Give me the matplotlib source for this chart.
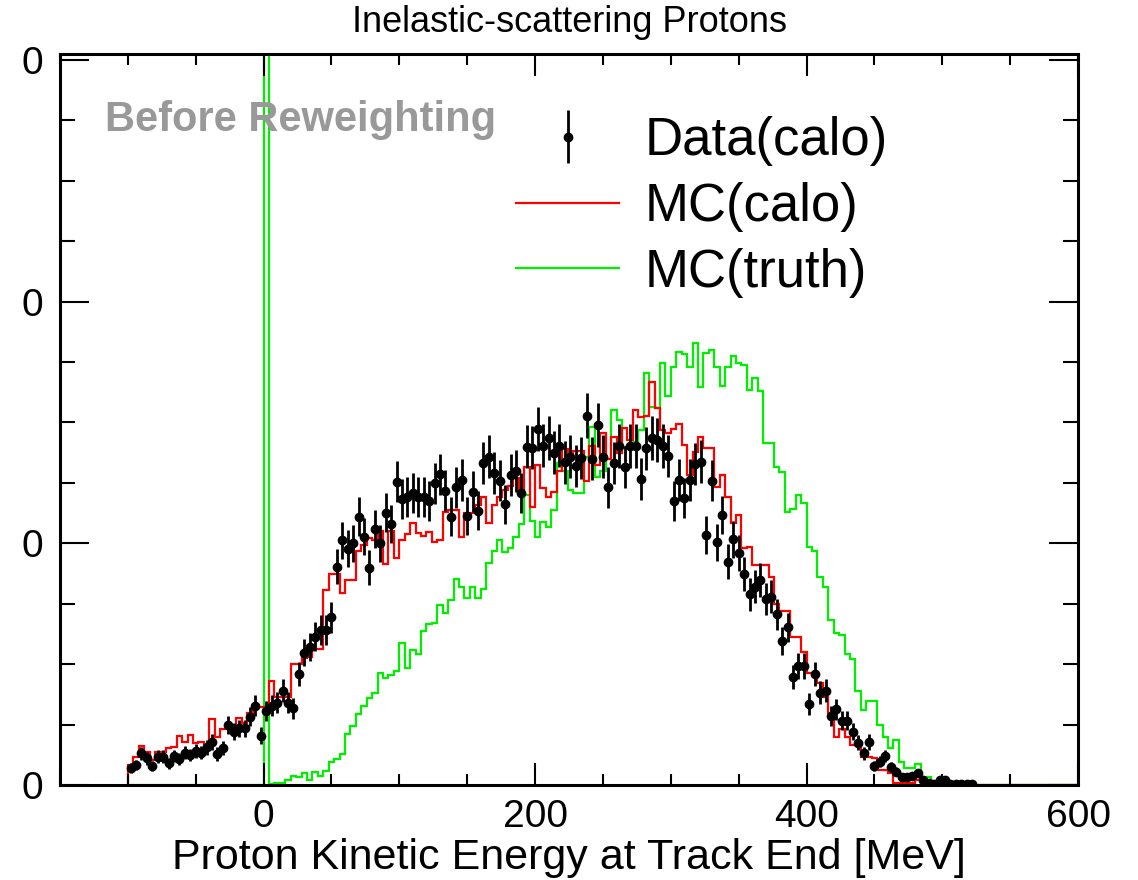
import numpy as np
import matplotlib.pyplot as plt
from matplotlib.lines import Line2D
from matplotlib.ticker import MultipleLocator, FormatStrFormatter

plt.rcParams['font.family'] = ['Liberation Sans', 'DejaVu Sans']

# binning: 4 MeV bins from -100 to 600 MeV
bin_lo, bin_hi, bin_w = -100, 600, 4
n_bins = (bin_hi - bin_lo) // bin_w
edges = np.arange(bin_lo, bin_hi + bin_w, bin_w)
centers = edges[:-1] + bin_w / 2

unit = 0.01        # one major y tick
data_norm = 173.0  # entries per unit, for poisson errors

# data (calo), bins starting at -100 MeV
data_calo = [
    0.069, 0.083, 0.131, 0.110, 0.079, 0.117, 0.117, 0.090, 0.120, 0.106,
    0.134, 0.124, 0.142, 0.134, 0.156, 0.179, 0.128, 0.152, 0.248, 0.221,
    0.234, 0.234, 0.283, 0.327, 0.204, 0.307, 0.327, 0.341, 0.390, 0.341,
    0.317, 0.459, 0.547, 0.570, 0.614, 0.641, 0.641, 0.694, 0.903, 1.012,
    0.978, 1.000, 1.110, 1.027, 0.899, 1.059, 1.000, 1.127, 1.079, 1.254,
    1.183, 1.193, 1.209, 1.193, 1.193, 1.176, 1.248, 1.285, 1.218, 1.110,
    1.232, 1.262, 1.113, 1.214, 1.135, 1.333, 1.358, 1.290, 1.259, 1.161,
    1.283, 1.300, 1.209, 1.400, 1.396, 1.473, 1.404, 1.434, 1.375, 1.404,
    1.335, 1.358, 1.320, 1.353, 1.528, 1.350, 1.489, 1.358, 1.232, 1.331,
    1.403, 1.317, 1.403, 1.403, 1.266, 1.393, 1.437, 1.427, 1.403, 1.361,
    1.176, 1.262, 1.189, 1.262, 1.328, 1.338, 1.034, 1.259, 1.004, 1.117,
    0.924, 1.016, 0.961, 0.873, 0.789, 0.821, 0.848, 0.768, 0.779, 0.707,
    0.596, 0.652, 0.446, 0.494, 0.494, 0.335, 0.459, 0.382, 0.390, 0.285,
    0.313, 0.265, 0.265, 0.221, 0.175, 0.131, 0.179, 0.079, 0.096, 0.120,
    0.073, 0.055, 0.034, 0.032, 0.037, 0.051, 0.021, 0.010, 0.004, 0.021,
    0.021, 0.004, 0.004, 0.004, 0.004, 0.004,
]

# MC (calo), bins starting at -100 MeV, zero afterwards
mc_calo = [
    0.083, 0.115, 0.161, 0.138, 0.105, 0.138, 0.138, 0.152, 0.156, 0.203,
    0.179, 0.207, 0.175, 0.179, 0.152, 0.273, 0.200, 0.230, 0.230, 0.237,
    0.276, 0.258, 0.297, 0.321, 0.321, 0.324, 0.432, 0.365, 0.365, 0.365,
    0.501, 0.501, 0.524, 0.531, 0.561, 0.561, 0.807, 0.873, 0.873, 0.793,
    0.848, 0.848, 0.969, 0.993, 1.021, 1.014, 1.052, 0.914, 1.052, 0.938,
    1.014, 1.038, 1.085, 1.041, 1.030, 1.048, 1.005, 1.014, 1.131, 1.138,
    1.138, 1.027, 1.124, 1.124, 1.158, 1.193, 1.083, 1.158, 1.193, 1.220,
    1.237, 1.269, 1.207, 1.317, 1.151, 1.324, 1.227, 1.190, 1.214, 1.300,
    1.389, 1.345, 1.383, 1.383, 1.259, 1.403, 1.324, 1.458, 1.348, 1.441,
    1.372, 1.476, 1.427, 1.551, 1.521, 1.527, 1.669, 1.558, 1.469, 1.455,
    1.472, 1.492, 1.407, 1.283, 1.379, 1.439, 1.393, 1.393, 1.234, 1.283,
    1.193, 1.083, 1.117, 0.979, 0.986, 0.910, 0.910, 0.910, 0.860, 0.750,
    0.720, 0.720, 0.614, 0.614, 0.552, 0.462, 0.462, 0.421, 0.365, 0.297,
    0.200, 0.230, 0.200, 0.166, 0.166, 0.117, 0.117, 0.110, 0.062, 0.062,
    0.050, 0.010, 0.010, 0.010, 0.010, 0.020, 0.005,
]

# MC (truth), bins starting at -100 MeV; bin [0,4) is far off scale
mc_truth = [
    0, 0, 0, 0, 0, 0, 0, 0, 0, 0,
    0, 0, 0, 0, 0, 0, 0, 0, 0, 0,
    0, 0, 0, 0, 0, 8.0, 0.004, 0.010, 0.010, 0.021,
    0.037, 0.032, 0.048, 0.021, 0.055, 0.037, 0.059, 0.097, 0.106, 0.128,
    0.211, 0.244, 0.294, 0.327, 0.359, 0.382, 0.462, 0.441, 0.455, 0.473,
    0.589, 0.483, 0.559, 0.542, 0.638, 0.666, 0.672, 0.745, 0.713, 0.766,
    0.854, 0.821, 0.773, 0.821, 0.773, 0.810, 0.918, 0.968, 1.015, 0.964,
    0.982, 1.024, 1.079, 1.200, 1.094, 1.027, 1.090, 1.069, 1.138, 1.331,
    1.300, 1.220, 1.207, 1.207, 1.358, 1.483, 1.276, 1.300, 1.350, 1.552,
    1.510, 1.400, 1.400, 1.420, 1.470, 1.703, 1.565, 1.558, 1.745, 1.609,
    1.731, 1.793, 1.783, 1.731, 1.830, 1.645, 1.789, 1.800, 1.731, 1.651,
    1.731, 1.775, 1.745, 1.738, 1.634, 1.682, 1.631, 1.414, 1.414, 1.314,
    1.296, 1.131, 1.140, 1.200, 1.166, 0.986, 0.970, 0.862, 0.818, 0.683,
    0.630, 0.621, 0.542, 0.520, 0.390, 0.310, 0.349, 0.349, 0.248, 0.200,
    0.152, 0.186, 0.097, 0.069, 0.069, 0.087, 0.035, 0.035, 0.010, 0.010,
    0.005,
]


def full(vals):
    v = np.zeros(n_bins)
    v[:len(vals)] = vals
    return v * unit


calo_h = full(mc_calo)
truth_h = full(mc_truth)
data_v = np.array(data_calo)
data_e = np.sqrt(data_v / data_norm)
data_x = centers[:len(data_v)]

fig = plt.figure(figsize=(11.38, 8.80), dpi=100)
ax = fig.add_axes([60 / 1138, 1 - 785 / 880, 1018 / 1138, 731 / 880])

ax.stairs(truth_h, edges, color='#00ee00', lw=1.6, baseline=0)
ax.stairs(calo_h, edges, color='#ff0000', lw=1.6, baseline=0)
eb = ax.errorbar(data_x, data_v * unit, yerr=data_e * unit, fmt='o', color='black',
                 ms=6, elinewidth=2, capsize=0, zorder=5)

ax.set_xlim(-150, 600)
ax.set_ylim(0, 3.024 * unit)

ax.xaxis.set_major_locator(MultipleLocator(200))
ax.xaxis.set_minor_locator(MultipleLocator(50))
ax.yaxis.set_major_locator(MultipleLocator(unit))
ax.yaxis.set_minor_locator(MultipleLocator(unit / 4))
ax.yaxis.set_major_formatter(FormatStrFormatter('%.0f'))

ax.tick_params(which='both', direction='in', top=True, right=True, width=1.5,
               labelsize=28)
ax.tick_params(axis='y', which='major', length=21, pad=12)
ax.tick_params(axis='y', which='minor', length=11)
ax.tick_params(axis='x', which='major', length=16, pad=10)
ax.tick_params(axis='x', which='minor', length=8)
for s in ax.spines.values():
    s.set_linewidth(2.2)

ax.set_xlabel('Proton Kinetic Energy at Track End [MeV]', fontsize=31, labelpad=2)

fig.text(0.5, 1 - 22 / 880, 'Inelastic-scattering Protons', ha='center', va='center',
         fontsize=26)

ax.text(-117, 2.751 * unit, 'Before Reweighting', fontsize=30, fontweight='bold',
        color='#999999', ha='left', va='center')

handles = [eb,
           Line2D([], [], color='#ff0000', lw=1.6),
           Line2D([], [], color='#00ee00', lw=1.6)]
ax.legend(handles, ['Data(calo)', 'MC(calo)', 'MC(truth)'], loc='upper left',
          bbox_to_anchor=(0.4225, 0.951), frameon=False, fontsize=38,
          handlelength=1.95, handletextpad=0.47, labelspacing=0.3, borderpad=0)

fig.savefig('out.png', dpi=100)
